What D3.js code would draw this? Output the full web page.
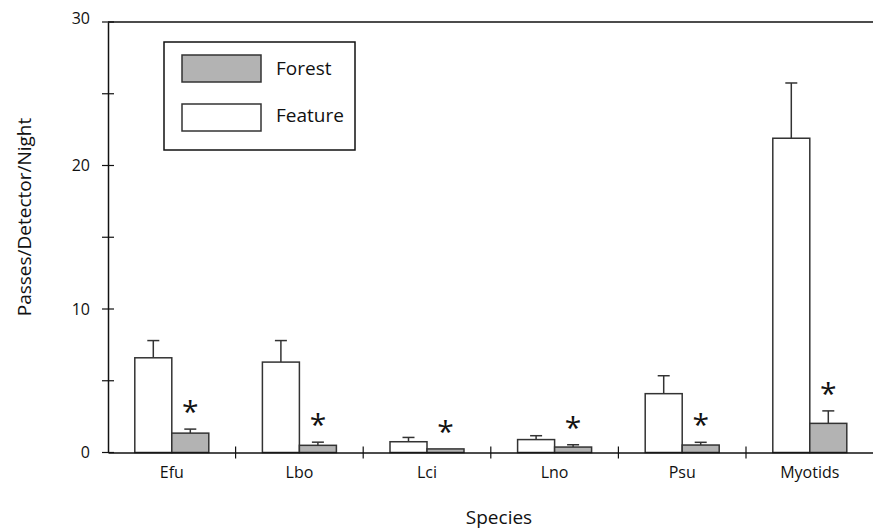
<!DOCTYPE html>
<html>
<head>
<meta charset="utf-8">
<script src="https://cdn.jsdelivr.net/npm/d3@7"></script>
<style>
  body { margin: 0; background: #fff; }
  text { font-family: "Open Sans", "Noto Sans", sans-serif; fill: #111; }
</style>
</head>
<body>
<script>
var species = ['Efu', 'Lbo', 'Lci', 'Lno', 'Psu', 'Myotids'];
var seriesNames = ['Feature', 'Forest'];
var featureMean = [6.6, 6.3, 0.75, 0.9, 4.1, 21.9];
var featureErr = [1.2, 1.5, 0.3, 0.27, 1.25, 3.85];
var forestMean = [1.35, 0.5, 0.25, 0.38, 0.52, 2.03];
var forestErr = [0.28, 0.22, 0, 0.16, 0.19, 0.87];
var significant = [true, true, true, true, true, true];
var yTicks = [0, 10, 20, 30];

var w = 873, h = 529,
	mLeft = 108, mRight = 873.6,
	mTop = 22, mBottom = 452.5;

var svg = d3.select('body').append('svg')
	.attr('width', w)
	.attr('height', h);

var x = d3.scaleBand()
	.domain(species)
	.range([mLeft, mRight]);

var x1 = d3.scaleBand()
	.domain(seriesNames)
	.range([0, 74])
	.padding(0);

var y = d3.scaleLinear()
	.domain([0, 30])
	.range([mBottom, mTop]);

var colour = d3.scaleOrdinal()
	.domain(seriesNames)
	.range(['#ffffff', '#b3b3b3']);

// rows: one per bar
var rows = [];
species.forEach(function(s, i) {
	rows.push({ s: s, k: 'Feature', v: featureMean[i], e: featureErr[i] });
	rows.push({ s: s, k: 'Forest', v: forestMean[i], e: forestErr[i], sig: significant[i] });
});

function bx(d) {
	return x(d.s) + x.bandwidth() / 2 - 37 + x1(d.k);
}

// top frame line
svg.append('line')
	.attr('x1', mLeft).attr('x2', w)
	.attr('y1', mTop).attr('y2', mTop)
	.attr('stroke', '#111').attr('stroke-width', 1.5);

// error bars
var eb = svg.selectAll('.err')
	.data(rows.filter(function(d) { return d.e > 0; }))
	.enter().append('g')
	.attr('class', 'err')
	.attr('stroke', '#333')
	.attr('stroke-width', 1.5);

eb.append('line')
	.attr('x1', function(d) { return bx(d) + x1.bandwidth() / 2; })
	.attr('x2', function(d) { return bx(d) + x1.bandwidth() / 2; })
	.attr('y1', function(d) { return y(d.v); })
	.attr('y2', function(d) { return y(d.v + d.e); });

eb.append('line')
	.attr('x1', function(d) { return bx(d) + x1.bandwidth() / 2 - 6; })
	.attr('x2', function(d) { return bx(d) + x1.bandwidth() / 2 + 6; })
	.attr('y1', function(d) { return y(d.v + d.e); })
	.attr('y2', function(d) { return y(d.v + d.e); });

// bars
svg.selectAll('.bar')
	.data(rows)
	.enter().append('rect')
	.attr('class', 'bar')
	.attr('x', bx)
	.attr('width', x1.bandwidth())
	.attr('y', function(d) { return y(d.v); })
	.attr('height', function(d) { return y(0) - y(d.v); })
	.attr('fill', function(d) { return colour(d.k); })
	.attr('stroke', '#333')
	.attr('stroke-width', 1.5);

// asterisks
svg.selectAll('.star')
	.data(rows.filter(function(d) { return d.sig; }))
	.enter().append('text')
	.attr('class', 'star')
	.attr('x', function(d) { return bx(d) + x1.bandwidth() / 2; })
	.attr('y', function(d) { return y(d.v + d.e) - 7; })
	.attr('text-anchor', 'middle')
	.style('font-size', '30px')
	.text('*');

// y axis
var yAxis = d3.axisLeft(y)
	.tickValues(yTicks)
	.tickSize(0)
	.tickPadding(18);

var gy = svg.append('g')
	.attr('transform', 'translate(' + mLeft + ',0)')
	.call(yAxis);
gy.select('.domain').attr('stroke', '#111').attr('stroke-width', 1.5);
gy.selectAll('text').style('font-size', '16px').attr('fill', '#111');
gy.selectAll('.tick text').attr('dy', function(d) { return d === 30 ? '0.1em' : '0.32em'; });

// cross ticks on y axis, every 5
svg.selectAll('.ytick')
	.data(d3.range(0, 31, 5))
	.enter().append('line')
	.attr('x1', mLeft - 6).attr('x2', mLeft + 6)
	.attr('y1', function(d) { return y(d); })
	.attr('y2', function(d) { return y(d); })
	.attr('stroke', '#111').attr('stroke-width', 1.2);

// x axis
var xAxis = d3.axisBottom(x)
	.tickSize(0)
	.tickPadding(14);

var gx = svg.append('g')
	.attr('transform', 'translate(0,' + mBottom + ')')
	.call(xAxis);
gx.select('.domain').attr('stroke', '#111').attr('stroke-width', 1.5);
gx.selectAll('text').style('font-size', '16px').attr('fill', '#111');

// cross ticks at category boundaries
svg.selectAll('.xtick')
	.data(species.slice(1))
	.enter().append('line')
	.attr('x1', function(d) { return x(d); })
	.attr('x2', function(d) { return x(d); })
	.attr('y1', mBottom - 6).attr('y2', mBottom + 6)
	.attr('stroke', '#111').attr('stroke-width', 1.2);

// axis titles
svg.append('text')
	.attr('x', 499).attr('y', 524)
	.attr('text-anchor', 'middle')
	.style('font-size', '19px')
	.text('Species');

svg.append('text')
	.attr('transform', 'translate(31,217)rotate(-90)')
	.attr('text-anchor', 'middle')
	.style('font-size', '19px')
	.text('Passes/Detector/Night');

// legend
var lg = svg.append('g');
lg.append('rect')
	.attr('x', 164).attr('y', 42)
	.attr('width', 191).attr('height', 108)
	.attr('fill', '#fff')
	.attr('stroke', '#111').attr('stroke-width', 1.5);

var legendItems = ['Forest', 'Feature'];
lg.selectAll('.sw')
	.data(legendItems)
	.enter().append('rect')
	.attr('x', 182)
	.attr('y', function(d, i) { return 55 + i * 49; })
	.attr('width', 79).attr('height', 27)
	.attr('fill', function(d) { return colour(d); })
	.attr('stroke', '#333').attr('stroke-width', 1.5);

lg.selectAll('.lt')
	.data(legendItems)
	.enter().append('text')
	.attr('x', 276)
	.attr('y', function(d, i) { return 75 + i * 47; })
	.style('font-size', '19px')
	.text(function(d) { return d; });
</script>
</body>
</html>
